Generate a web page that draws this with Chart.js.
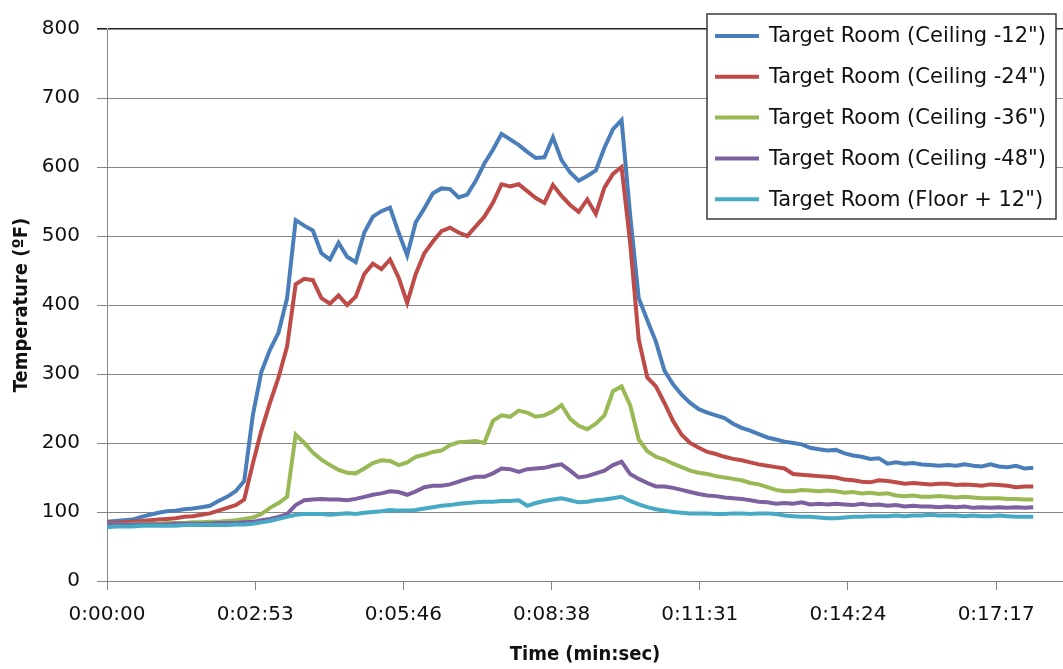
<!DOCTYPE html>
<html>
<head>
<meta charset="utf-8">
<script src="https://cdn.jsdelivr.net/npm/chart.js@4/dist/chart.umd.min.js"></script>
<style>
  html, body { margin: 0; padding: 0; background: #fff; overflow: hidden; }
  #wrap { width: 1063px; height: 669px; position: relative; }
</style>
</head>
<body>
<div id="wrap"><canvas id="c" width="1063" height="669"></canvas></div>
<script>
// ---- data (time in seconds, temperature in °F) ----
const timesSec = [0,10,20,30,40,50,60,70,80,90,100,110,120,130,140,150,160,170,180,190,
  200,210,220,230,240,250,260,270,280,290,300,310,320,330,340,350,360,370,380,390,
  400,410,420,430,440,450,460,470,480,490,500,510,520,530,540,550,560,570,580,590,
  600,610,620,630,640,650,660,670,680,690,700,710,720,730,740,750,760,770,780,790,
  800,810,820,830,840,850,860,870,880,890,900,910,920,930,940,950,960,970,980,990,
  1000,1010,1020,1030,1040,1050,1060,1070,1080];

const ceiling12 = [86,87,88,89,93,96,99,101,102,104,105,107,109,116,122,130,145,240,303,335,
  360,410,523,515,508,475,466,490,470,462,505,528,536,541,505,472,520,540,562,569,
  568,556,560,580,605,625,648,640,632,622,613,614,643,610,592,580,587,595,628,655,
  668,530,410,378,347,305,285,270,258,249,244,240,236,228,222,218,213,208,205,202,
  200,198,193,191,189,190,185,182,180,177,178,170,172,170,171,169,168,167,168,167,
  169,167,166,169,166,165,167,163,164];

const ceiling24 = [84,84,85,86,87,88,89,90,91,93,94,96,98,102,106,110,118,170,218,258,
  295,340,430,438,436,410,402,414,400,412,445,460,452,466,440,403,445,475,492,507,
  512,505,500,514,528,548,575,572,575,565,555,548,574,558,545,535,553,532,570,590,
  600,490,350,295,282,258,232,212,200,193,187,184,180,177,175,172,169,167,165,163,
  155,154,153,152,151,150,147,146,144,143,146,145,143,141,142,141,140,141,141,139,
  140,139,138,140,139,138,136,137,137];

const ceiling36 = [82,82,82,83,83,83,83,84,84,84,85,85,86,86,87,88,90,92,97,106,
  113,122,212,200,186,176,168,161,157,156,163,171,175,174,168,172,180,183,187,189,
  197,201,202,203,200,232,240,238,247,244,238,240,246,255,235,225,220,228,240,275,
  282,255,205,188,180,176,170,165,160,157,155,152,150,148,146,142,140,136,132,130,
  130,132,131,130,131,130,128,129,127,128,126,127,124,123,124,122,122,123,122,121,
  122,121,120,120,120,119,119,118,118];

const ceiling48 = [82,82,82,82,82,82,82,82,83,83,83,83,83,84,84,84,85,86,88,90,
  93,97,110,117,118,119,118,118,117,119,122,125,127,130,129,125,130,136,138,138,
  140,144,148,151,151,156,163,162,158,162,163,164,167,169,160,150,152,156,160,168,
  173,155,148,142,137,137,135,132,129,126,124,123,121,120,119,117,115,114,112,113,
  112,114,111,112,111,112,111,110,112,110,111,109,110,108,109,108,108,107,108,107,
  108,106,107,106,107,106,107,106,107];

const floor12 = [78,79,79,79,80,80,80,80,80,81,81,81,81,81,81,82,82,83,85,87,
  90,93,96,97,97,97,96,97,98,97,99,100,101,103,102,102,103,105,107,109,
  110,112,113,114,115,115,116,116,117,109,113,116,118,120,117,114,115,117,118,120,
  122,116,111,107,104,102,100,99,98,98,98,97,97,98,98,97,98,98,97,95,
  94,93,93,92,91,91,92,93,93,94,94,94,95,94,95,95,96,95,95,95,
  94,95,94,94,95,94,93,93,93];

const seriesLabels = [
  'Target Room (Ceiling -12")',
  'Target Room (Ceiling -24")',
  'Target Room (Ceiling -36")',
  'Target Room (Ceiling -48")',
  'Target Room (Floor + 12")'
];
const seriesValues = [ceiling12, ceiling24, ceiling36, ceiling48, floor12];
const seriesColors = ['#4A7EBB', '#BE4B48', '#98B954', '#7D60A0', '#46AAC5'];

const xTickValues = [0, 172.8, 345.6, 518.4, 691.2, 864, 1036.8];
const xTickLabels = ['0:00:00', '0:02:53', '0:05:46', '0:08:38', '0:11:31', '0:14:24', '0:17:17'];
const xMax = 1114.7;
const yMin = 0, yMax = 800, yStep = 100;

// ---- chart ----
const gridGray = '#868686';
const tickFont = { family: "'DejaVu Sans', Verdana, sans-serif", size: 20 };
const titleFont = { family: "'DejaVu Sans Condensed', 'DejaVu Sans', sans-serif", size: 20, weight: 'bold' };

const boxLegend = {
  id: 'boxLegend',
  afterDatasetsDraw(chart, args, o) {
    const ctx = chart.ctx;
    ctx.save();
    ctx.fillStyle = '#fff';
    ctx.fillRect(o.x, o.y, o.w, o.h);
    ctx.strokeStyle = '#3a3a3a';
    ctx.lineWidth = 1.5;
    ctx.strokeRect(o.x, o.y, o.w, o.h);
    ctx.font = "21px 'DejaVu Sans', Verdana, sans-serif";
    ctx.textBaseline = 'middle';
    ctx.textAlign = 'left';
    chart.data.datasets.forEach((ds, i) => {
      const cy = o.firstRow + i * o.rowGap;
      ctx.strokeStyle = ds.borderColor;
      ctx.lineWidth = ds.borderWidth;
      ctx.beginPath();
      ctx.moveTo(o.x + o.lineStart, cy);
      ctx.lineTo(o.x + o.lineEnd, cy);
      ctx.stroke();
      ctx.fillStyle = '#111';
      ctx.fillText(ds.label, o.x + o.textStart, cy + 1);
    });
    ctx.restore();
  }
};

const datasets = seriesLabels.map((label, s) => ({
  label: label,
  data: timesSec.map((t, i) => ({ x: t, y: seriesValues[s][i] })),
  borderColor: seriesColors[s],
  backgroundColor: seriesColors[s],
  borderWidth: 4,
  pointRadius: 0,
  tension: 0,
  fill: false,
  order: seriesLabels.length - s
}));

new Chart(document.getElementById('c'), {
  type: 'line',
  data: { datasets: datasets },
  options: {
    responsive: false,
    animation: false,
    devicePixelRatio: 1,
    layout: { padding: { top: 18, left: 0, right: 0, bottom: 0 } },
    plugins: {
      legend: { display: false },
      tooltip: { enabled: false },
      boxLegend: { x: 707, y: 14, w: 349, h: 205, firstRow: 36, rowGap: 40.8, lineStart: 8, lineEnd: 52, textStart: 62 }
    },
    scales: {
      x: {
        type: 'linear',
        min: 0,
        max: xMax,
        afterBuildTicks: (scale) => { scale.ticks = xTickValues.map(v => ({ value: v })); },
        afterFit: (scale) => { scale.height = 88; },
        ticks: {
          autoSkip: false,
          maxRotation: 0,
          padding: 13,
          color: '#111',
          font: tickFont,
          callback: (v, i) => xTickLabels[i]
        },
        grid: { drawOnChartArea: false, drawTicks: true, tickLength: 9, color: gridGray, lineWidth: 1 },
        border: { display: true, color: gridGray, width: 1 },
        title: { display: true, text: 'Time (min:sec)', color: '#111', font: titleFont, padding: { top: 0, bottom: 2 } }
      },
      y: {
        type: 'linear',
        min: yMin,
        max: yMax,
        afterFit: (scale) => { scale.width = 107; },
        ticks: { stepSize: yStep, padding: 17, color: '#111', font: tickFont },
        grid: {
          drawTicks: true,
          tickLength: 10,
          color: (c) => (c.tick && c.tick.value === yMax ? '#222' : gridGray),
          lineWidth: (c) => (c.tick && c.tick.value === yMax ? 1.6 : 1)
        },
        border: { display: true, color: gridGray, width: 1 },
        title: { display: true, text: 'Temperature (ºF)', color: '#111', font: titleFont, padding: { top: 10, bottom: 0 } }
      }
    }
  },
  plugins: [boxLegend]
});
</script>
</body>
</html>
